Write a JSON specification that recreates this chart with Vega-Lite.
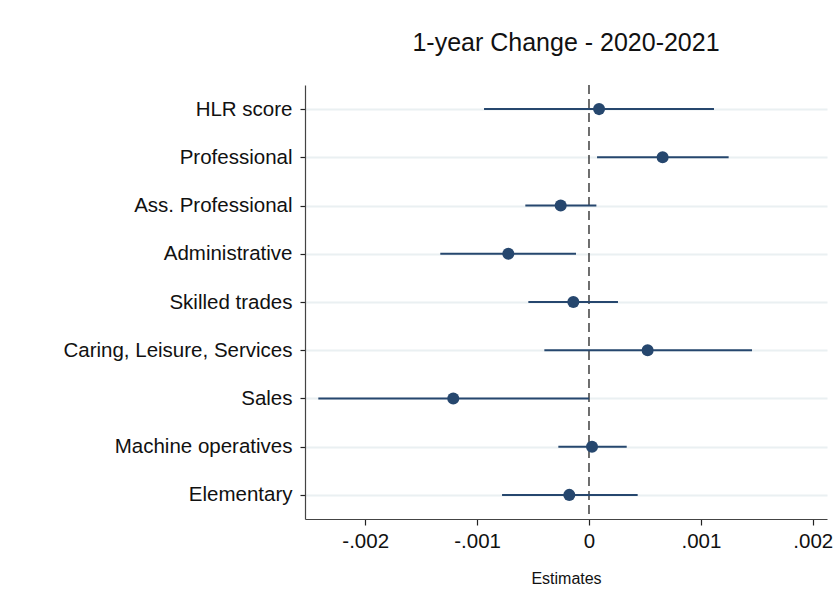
{
  "$schema": "https://vega.github.io/schema/vega-lite/v6.json",
  "autosize": {"type": "none"},
  "padding": {"left": 305, "top": 85, "right": 11, "bottom": 92},
  "width": 522,
  "height": 434,
  "background": "white",
  "title": {
    "text": "1-year Change - 2020-2021",
    "font": "Liberation Sans",
    "fontSize": 25,
    "fontWeight": "normal",
    "color": "#111111",
    "anchor": "middle",
    "offset": 28
  },
  "config": {
    "view": {"stroke": null},
    "font": "Liberation Sans"
  },
  "data": {
    "values": [
      {"occ": "HLR score", "ord": 1, "est": 0.00009, "lo": -0.000938, "hi": 0.001117},
      {"occ": "Professional", "ord": 2, "est": 0.000658, "lo": 0.000072, "hi": 0.001248},
      {"occ": "Ass. Professional", "ord": 3, "est": -0.000253, "lo": -0.000569, "hi": 0.000066},
      {"occ": "Administrative", "ord": 4, "est": -0.000721, "lo": -0.001329, "hi": -0.000116},
      {"occ": "Skilled trades", "ord": 5, "est": -0.00014, "lo": -0.000542, "hi": 0.000259},
      {"occ": "Caring, Leisure, Services", "ord": 6, "est": 0.000524, "lo": -0.000399, "hi": 0.001457},
      {"occ": "Sales", "ord": 7, "est": -0.001213, "lo": -0.002419, "hi": 0.0},
      {"occ": "Machine operatives", "ord": 8, "est": 0.000027, "lo": -0.000274, "hi": 0.000337},
      {"occ": "Elementary", "ord": 9, "est": -0.000176, "lo": -0.000777, "hi": 0.000435}
    ]
  },
  "encoding": {
    "y": {
      "field": "occ",
      "type": "nominal",
      "sort": {"field": "ord", "order": "ascending"},
      "scale": {"type": "point", "padding": 0.5},
      "axis": {
        "title": null,
        "labelFontSize": 20.5,
        "labelColor": "#111111",
        "labelPadding": 8,
        "labelLimit": 320,
        "tickSize": 5,
        "tickColor": "#222222",
        "tickWidth": 1.2,
        "domainColor": "#444444",
        "domainWidth": 1.2,
        "grid": true,
        "gridColor": "#eaf0f2",
        "gridWidth": 2.2
      }
    }
  },
  "layer": [
    {
      "data": {"values": [{"zero": 0}]},
      "mark": {"type": "rule", "color": "#222222", "strokeWidth": 1.3, "strokeDash": [9, 5]},
      "encoding": {
        "x": {"field": "zero", "type": "quantitative"},
        "y": {"value": 0},
        "y2": {"value": 434}
      }
    },
    {
      "mark": {"type": "rule", "color": "#26476e", "strokeWidth": 2},
      "encoding": {
        "x": {
          "field": "lo",
          "type": "quantitative",
          "scale": {"domain": [-0.002538, 0.002127], "nice": false, "zero": false},
          "axis": {
            "title": "Estimates",
            "titleFontSize": 16,
            "titleFontWeight": "normal",
            "titleColor": "#111111",
            "titlePadding": 19,
            "values": [-0.002, -0.001, 0, 0.001, 0.002],
            "labelExpr": "datum.value == 0 ? '0' : (datum.value < 0 ? '-' : '') + replace(format(abs(datum.value), '.3f'), '0.', '.')",
            "labelFontSize": 20.5,
            "labelColor": "#111111",
            "labelPadding": 6,
            "tickSize": 6,
            "tickColor": "#222222",
            "tickWidth": 1.2,
            "domainColor": "#444444",
            "domainWidth": 1.2,
            "grid": false
          }
        },
        "x2": {"field": "hi"}
      }
    },
    {
      "mark": {"type": "point", "filled": true, "shape": "circle", "size": 145, "color": "#26476e", "opacity": 1},
      "encoding": {
        "x": {"field": "est", "type": "quantitative"}
      }
    }
  ]
}
